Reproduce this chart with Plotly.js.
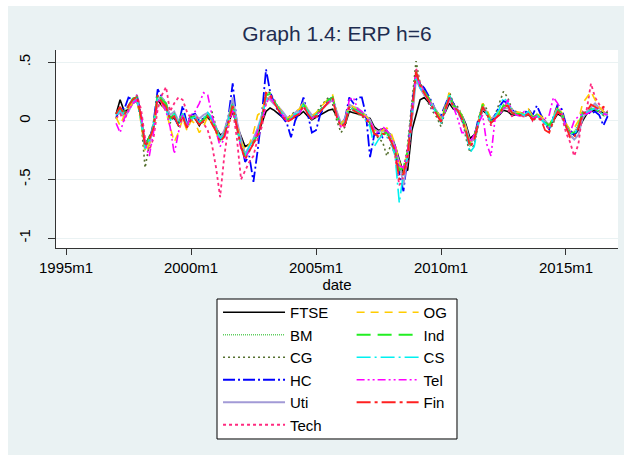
<!DOCTYPE html>
<html><head><meta charset="utf-8">
<script src="https://cdn.plot.ly/plotly-3.0.1.min.js"></script>
<style>
html,body{margin:0;padding:0;background:#ffffff;}
#chart{position:absolute;left:8px;top:6px;width:616px;height:449px;}
</style></head>
<body><div id="chart"></div>
<script>
// bimonthly observation dates 1997m1 .. 2016m9
const dates = [];
for (let y = 1997; y <= 2016; y++) {
  for (const m of [1,3,5,7,9,11]) {
    if (y === 2016 && m > 9) break;
    dates.push(y + '-' + String(m).padStart(2,'0') + '-01');
  }
}
const xTickVals = ['1995-01-01','2000-01-01','2005-01-01','2010-01-01','2015-01-01'];
const xTickText = ['1995m1','2000m1','2005m1','2010m1','2015m1'];
const yTickVals = [-1,-0.5,0,0.5];
const yTickText = ['-1','-.5','0','.5'];

const FTSE = [
 .06,.18,.08,.10,.15,.17, .03,-.20,-.14,-.06,.18,.13, .10,.03,.02,-.02,.03,-.04, .04,.02,-.04,.02,.03,-.02,
 -.06,-.12,-.10,-.02,.08,-.04, -.14,-.22,-.20,-.17,-.12,-.02, .08,.11,.09,.06,.03,.01, .02,.03,.05,.08,.04,.01,
 .03,.05,.07,.09,.10,.04, -.02,-.03,.08,.07,.06,.05, .03,.02,-.05,-.08,-.07,-.09, -.12,-.21,-.33,-.44,-.42,-.08,
 .05,.18,.20,.16,.12,.08, .03,.07,.15,.10,.09,.05, -.03,-.15,-.12,-.02,.09,.06, .01,.03,.05,.09,.08,.05,
 .05,.05,.04,.05,.03,.04, .03,.00,-.04,.00,.06,.04, -.03,-.10,-.12,-.08,.00,.06, .08,.09,.08,.07,.07];
const BM = [
 .04,.09,.08,.13,.17,.21, .00,-.25,-.17,-.03,.20,.18, .11,.02,.06,-.04,.04,-.06, .01,.05,-.01,.02,.06,-.01,
 -.09,-.18,-.10,.02,.17,-.03, -.18,-.28,-.22,-.15,-.08,.04, .24,.20,.15,.12,.06,.01, .03,.06,.06,.13,.08,.03,
 .06,.10,.12,.16,.18,.07, -.03,.00,.12,.11,.09,.05, .03,-.02,-.12,-.11,-.09,-.12, -.17,-.26,-.45,-.40,-.25,.10,
 .44,.28,.22,.20,.12,.06, -.02,.12,.20,.14,.09,.02, -.10,-.22,-.13,.01,.14,.06, -.02,.03,.07,.14,.12,.06,
 .07,.05,.06,.08,.01,.06, .01,-.02,-.06,.03,.11,.05, -.05,-.11,-.09,-.03,.08,.06, .11,.13,.08,.04,.05];
const CG = [
 .03,.08,.05,.10,.16,.19, .00,-.40,-.20,-.06,.21,.15, .10,-.02,.04,-.05,.03,-.06, .00,.02,-.03,-.01,.04,.08,
 -.05,-.15,-.14,.02,.16,-.06, -.22,-.32,-.25,-.20,-.12,.00, .25,.24,.17,.11,.06,.02, .05,.08,.09,.14,.06,.00,
 .06,.12,.16,.20,.14,.00, -.10,-.05,.10,.08,.06,.04, .01,-.03,-.10,-.15,-.18,-.30, -.20,-.28,-.42,-.45,-.20,.15,
 .51,.32,.27,.15,.08,.03, -.05,.08,.25,.15,.12,.05, -.15,-.27,-.20,-.04,.15,.10, .00,.05,.15,.25,.20,.10,
 .08,.07,.04,.06,.00,.03, .05,.00,-.08,-.02,.12,.04, -.06,-.13,-.15,-.05,.05,.05, .12,.10,.08,.05,.08];
const HC = [
 .02,.12,.10,.20,.18,.22, .05,-.20,-.18,-.02,.27,.20, .14,.04,.03,-.04,.13,-.02, .05,.06,.00,.02,.05,.02,
 -.08,-.16,-.10,.04,.32,-.02, -.18,-.35,-.30,-.52,-.25,.05, .44,.25,.15,.08,.03,-.02, -.14,.00,.08,.20,.06,-.10,
 -.08,.05,.12,.18,.20,.06, -.02,.02,.20,.15,.20,.20, .05,-.31,-.12,-.10,-.14,-.08, -.18,-.25,-.45,-.60,-.30,.12,
 .40,.32,.28,.22,.15,.06, .05,.13,.22,.15,.08,.02, -.06,-.18,-.14,.02,.12,.06, .00,.05,.12,.17,.15,.10,
 .06,.07,.06,.10,.05,.13, .05,-.03,-.07,.03,.14,.10, -.03,-.08,-.12,-.06,.06,.08, .06,.08,.05,-.04,.04];
const Uti = [
 .05,.08,.03,.08,.15,.17, .05,-.18,-.20,-.05,.20,.20, .15,.05,.08,.00,.06,-.03, .00,.05,.02,.05,.07,.03,
 -.05,-.15,-.08,.03,.20,.00, -.15,-.28,-.22,-.15,-.06,.05, .20,.18,.14,.12,.08,.03, .03,.07,.10,.16,.10,.05,
 .06,.08,.12,.15,.18,.08, -.02,.02,.14,.12,.11,.08, .04,.01,-.07,-.09,-.08,-.10, -.12,-.22,-.35,-.55,-.30,.00,
 .35,.28,.22,.18,.14,.08, .02,.08,.18,.12,.10,.05, -.05,-.18,-.16,-.03,.10,.08, .02,.04,.06,.10,.11,.08,
 .07,.05,.04,.06,.03,.05, .02,.00,-.03,.01,.08,.05, -.05,-.12,-.16,-.12,.02,.08, .12,.15,.11,.08,.05];
const Tech = [
 .02,.06,.00,.10,.15,.22, .10,-.15,-.25,-.15,.10,.22, .29,.08,.15,.20,.18,.08, .02,.05,.00,-.02,-.08,-.20,
 -.40,-.65,-.30,-.05,.10,-.15, -.50,-.42,-.35,-.30,-.15,-.05, .15,.22,.18,.10,.04,.00, .01,.04,.08,.12,.06,.02,
 .03,.08,.12,.16,.20,.06, -.06,-.04,.12,.10,.08,.05, .00,-.04,-.08,-.14,-.12,-.08, -.18,-.30,-.55,-.48,-.35,.00,
 .45,.32,.25,.20,.12,.06, .00,.10,.20,.14,.08,.00, -.10,-.22,-.18,-.02,.12,.05, -.04,.02,.05,.12,.10,.04,
 .05,.06,.03,.08,.00,.04, .00,-.03,-.07,.00,.08,.04, -.10,-.18,-.30,-.20,.08,.10, .32,.20,.14,.10,.08];
const OG = [
 .03,-.04,.05,.10,.16,.18, -.02,-.27,-.20,-.08,.18,.14, .08,-.05,-.18,-.10,.02,-.08, .00,-.02,-.10,-.05,.04,-.02,
 -.10,-.18,-.14,-.04,.12,-.03, -.18,-.25,-.20,-.10,.05,.08, .20,.20,.15,.12,.06,.02, .04,.08,.10,.16,.09,.04,
 .07,.11,.15,.19,.22,.06, -.03,.02,.14,.12,.09,.07, .04,.00,-.08,-.10,-.08,-.06, -.10,-.20,-.35,-.45,-.25,.05,
 .38,.28,.24,.18,.12,.08, .02,.12,.24,.12,.10,.05, -.06,-.18,-.14,.00,.15,.09, .02,.04,.08,.12,.14,.09,
 .08,.07,.06,.10,.04,.06, .04,.00,-.04,.04,.12,.07, -.02,-.08,-.06,.00,.15,.20, .25,.18,.12,.08,.06];
const Ind = [
 .06,.11,.07,.13,.19,.20, .02,-.23,-.14,-.04,.24,.18, .15,.02,.06,-.02,.06,-.04, .03,.04,-.01,.01,.05,.01,
 -.07,-.16,-.12,.01,.15,-.06, -.22,-.30,-.26,-.18,-.11,.02, .22,.23,.17,.10,.05,.01, .02,.05,.07,.14,.08,.03,
 .05,.09,.14,.18,.20,.04, -.05,-.02,.12,.10,.09,.07, .02,-.02,-.10,-.12,-.11,-.10, -.16,-.25,-.42,-.40,-.26,.08,
 .42,.30,.25,.20,.13,.07, .00,.10,.22,.13,.11,.04, -.08,-.20,-.15,-.01,.14,.07, -.01,.02,.06,.13,.13,.07,
 .06,.06,.05,.07,.03,.05, .02,-.01,-.04,.02,.10,.06, -.04,-.10,-.10,-.04,.07,.07, .10,.10,.08,.05,.07];
const CS = [
 .05,.09,.06,.14,.17,.18, .00,-.24,-.16,-.04,.20,.16, .10,.00,.06,-.04,.06,-.04, .02,.03,-.02,.02,.07,.02,
 -.06,-.15,-.12,.00,.14,-.05, -.20,-.30,-.22,-.16,-.08,.03, .18,.20,.16,.10,.06,.01, .02,.06,.07,.14,.08,.02,
 .05,.09,.12,.16,.19,.05, -.04,-.01,.13,.09,.08,.05, .00,-.05,-.22,-.16,-.12,-.14, -.18,-.30,-.70,-.45,-.30,.05,
 .38,.28,.24,.18,.12,.06, -.02,.10,.22,.12,.08,.02, -.10,-.27,-.22,-.02,.12,.06, -.02,.04,.10,.20,.16,.08,
 .05,.06,.05,.08,.02,.05, .01,-.02,-.06,.03,.10,.05, -.05,-.10,-.12,-.05,.06,.07, .09,.11,.08,.05,.05];
const Tel = [
 -.02,-.10,.02,.08,.15,.18, .05,-.20,-.30,-.10,.18,.15, .08,-.05,-.28,-.10,.05,-.05, .05,.08,.15,.24,.22,.05,
 -.10,-.22,-.15,-.02,.10,-.05, -.24,-.32,-.25,-.20,-.08,.00, .15,.20,.15,.10,.04,.00, .02,.05,.06,.12,.06,.02,
 .05,.08,.12,.16,.18,.05, -.05,-.02,.18,.20,.10,.08, .02,.00,-.08,-.10,-.05,-.08, -.14,-.22,-.38,-.40,-.25,.05,
 .40,.30,.24,.18,.10,.05, .00,.08,.20,.12,.02,-.10, -.10,-.18,-.12,-.02,.05,-.20, -.30,.02,.05,.10,.18,.08,
 .05,.04,.08,.06,.02,.04, .02,.02,.05,.20,.15,.06, -.05,-.10,.00,.04,.06,.06, .08,.10,.08,.06,.05];
const Fin = [
 .06,.12,.05,.13,.18,.21, .03,-.22,-.16,-.06,.22,.16, .12,.01,.04,-.04,.04,-.06, .01,.02,-.03,.00,.04,-.03,
 -.09,-.18,-.13,.00,.13,-.05, -.22,-.33,-.26,-.20,-.12,.00, .24,.22,.15,.09,.04,-.01, .01,.04,.06,.13,.06,.01,
 .04,.08,.12,.16,.19,.03, -.05,-.02,.12,.09,.07,.05, .01,-.02,-.11,-.13,-.11,-.12, -.17,-.26,-.50,-.45,-.30,.05,
 .42,.30,.24,.18,.12,.06, -.01,.09,.20,.12,.09,.02, -.09,-.22,-.16,-.02,.12,.06, -.02,.02,.05,.12,.13,.07,
 .05,.05,.04,.06,.01,.03, .01,-.08,-.10,.00,.08,.05, -.04,-.14,-.14,-.06,.06,.08, .14,.12,.10,.12,.10];

// drawing order (Stata order); legend column assignment
const series = [
  {name:'FTSE', y:FTSE, color:'#000000', dash:'solid', w:1.6, lg:'legend'},
  {name:'BM',   y:BM,   color:'#5fcf5f', dash:'1px,1px', w:1.5, lg:'legend'},
  {name:'CG',   y:CG,   color:'#55702f', dash:'2px,3px', w:1.6, lg:'legend'},
  {name:'HC',   y:HC,   color:'#0000ff', dash:'12px,3px,2px,3px', w:1.8, lg:'legend'},
  {name:'Uti',  y:Uti,  color:'#a29ad6', dash:'solid', w:1.8, lg:'legend'},
  {name:'Tech', y:Tech, color:'#ff2a7f', dash:'3px,3px', w:1.8, lg:'legend'},
  {name:'OG',   y:OG,   color:'#ffcc00', dash:'8px,6px', w:1.6, lg:'legend2'},
  {name:'Ind',  y:Ind,  color:'#22ee22', dash:'14px,7px', w:1.8, lg:'legend2'},
  {name:'CS',   y:CS,   color:'#00f0f0', dash:'14px,4px,2px,4px', w:1.6, lg:'legend2'},
  {name:'Tel',  y:Tel,  color:'#ff00ff', dash:'8px,3px,2px,3px,2px,3px', w:1.6, lg:'legend2'},
  {name:'Fin',  y:Fin,  color:'#ff2020', dash:'14px,4px,3px,4px', w:1.8, lg:'legend2'}
];

const traces = series.map(s => ({
  type:'scatter', mode:'lines', x:dates, y:s.y, name:s.name, legend:s.lg,
  line:{color:s.color, dash:s.dash, width:s.w}
}));

const font = 'Arial, "Liberation Sans", sans-serif';
const legendBase = {orientation:'v', yanchor:'top', xanchor:'left',
  bgcolor:'rgba(0,0,0,0)', borderwidth:0, font:{size:15, family:font},
  traceorder:'normal', itemwidth:62};
const layout = {
  width:616, height:449,
  margin:{l:48, r:6, t:44, b:207},
  paper_bgcolor:'#eaf2f3', plot_bgcolor:'#ffffff',
  font:{family:font, size:15, color:'#000'},
  title:{text:'Graph 1.4: ERP h=6', font:{size:21, color:'#1e2d50', family:font},
         x:0.5, xref:'paper', xanchor:'center', y:0.9376, yref:'container', yanchor:'middle'},
  showlegend:true,
  legend:Object.assign({}, legendBase, {x:0.2883, y:-0.2424}),
  legend2:Object.assign({}, legendBase, {x:0.526, y:-0.2424}),
  shapes:[{type:'rect', xref:'paper', yref:'paper', x0:0.2865, x1:0.7135, y0:-0.2576, y1:-0.9646,
           line:{color:'#000000', width:1}, fillcolor:'#ffffff', layer:'below'}],
  xaxis:{type:'date', range:['1994-08-07','2017-01-30'], tickmode:'array',
         tickvals:xTickVals, ticktext:xTickText, ticks:'outside', ticklen:6, tickcolor:'#333',
         showgrid:false, zeroline:false, showline:true, linecolor:'#333', linewidth:1,
         tickfont:{size:15}, title:{text:'date', font:{size:15}, standoff:2}},
  yaxis:{range:[-1.085,0.605], tickmode:'array', tickvals:yTickVals, ticktext:yTickText,
         ticks:'outside', ticklen:7, tickcolor:'#333', tickangle:-90, ticklabelstandoff:12,
         showgrid:true, gridcolor:'#eaf2f3', gridwidth:1, zeroline:false,
         showline:true, linecolor:'#333', linewidth:1, tickfont:{size:15}}
};
Plotly.newPlot('chart', traces, layout, {displayModeBar:false, staticPlot:true});
</script></body></html>
